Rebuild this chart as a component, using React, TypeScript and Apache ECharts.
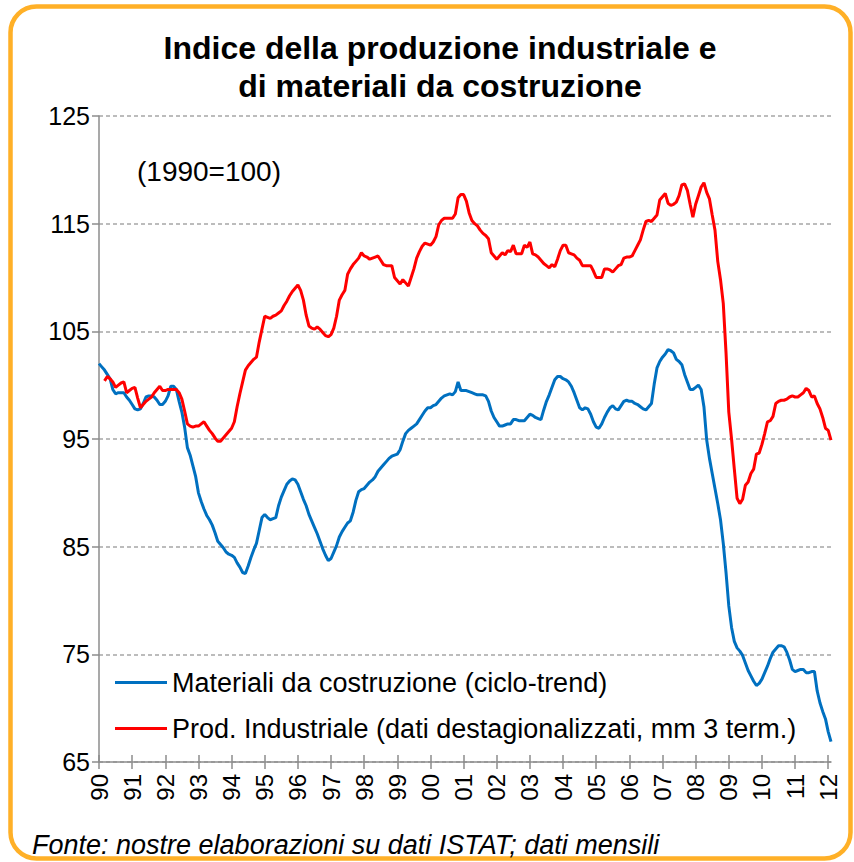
import React, { useEffect, useRef } from "react";
import * as echarts from "echarts";

// Monthly categories: Jan 1990 .. Feb 2012
const startYear = 1990;
const monthCount = 266;
const categories: string[] = Array.from({ length: monthCount }, (_, i) => {
  const y = startYear + Math.floor(i / 12);
  const m = (i % 12) + 1;
  return `${y}-${m < 10 ? "0" + m : m}`;
});

const yTicks = { min: 65, max: 125, interval: 10 };

const seriesNames = [
  "Materiali da costruzione (ciclo-trend)",
  "Prod. Industriale (dati destagionalizzati, mm 3 term.)",
];

// Materiali da costruzione (ciclo-trend), monthly
const materiali: number[] = [
  // 1990
  102.0, 101.7, 101.4, 101.0, 100.6, 99.6, 99.2, 99.3, 99.3, 99.3, 98.9, 98.6,
  // 1991
  98.2, 97.8, 97.7, 97.8, 98.3, 98.9, 99.0, 99.0, 98.9, 98.6, 98.2, 98.2,
  // 1992
  98.5, 99.0, 99.9, 99.9, 99.6, 98.5, 97.5, 96.1, 94.2, 93.5, 92.5, 91.5,
  // 1993
  90.0, 89.2, 88.5, 87.9, 87.5, 87.0, 86.3, 85.5, 85.2, 84.9, 84.5, 84.3,
  // 1994
  84.2, 84.0, 83.5, 83.1, 82.6, 82.5, 83.2, 84.0, 84.7, 85.3, 86.5, 87.7,
  // 1995
  88.0, 87.7, 87.5, 87.6, 87.7, 88.8, 89.6, 90.2, 90.8, 91.1, 91.3, 91.2,
  // 1996
  90.8, 90.1, 89.4, 88.8, 88.0, 87.4, 86.8, 86.2, 85.5, 84.8, 84.2, 83.7,
  // 1997
  83.9, 84.5, 85.1, 85.9, 86.4, 86.8, 87.2, 87.4, 88.2, 89.3, 90.1, 90.3,
  // 1998
  90.4, 90.7, 91.0, 91.2, 91.5, 92.0, 92.3, 92.6, 92.9, 93.2, 93.4, 93.5,
  // 1999
  93.6, 94.0, 94.8, 95.5, 95.8, 96.0, 96.2, 96.4, 96.8, 97.2, 97.6, 97.9,
  // 2000
  97.9, 98.1, 98.2, 98.5, 98.8, 99.0, 99.1, 99.2, 99.1, 99.4, 100.3, 99.5,
  // 2001
  99.5, 99.5, 99.4, 99.3, 99.2, 99.1, 99.1, 99.1, 99.0, 98.5, 97.6, 97.0,
  // 2002
  96.6, 96.2, 96.2, 96.3, 96.4, 96.4, 96.8, 96.8, 96.7, 96.7, 96.7, 97.0,
  // 2003
  97.3, 97.2, 97.0, 96.9, 96.8, 97.7, 98.5, 99.1, 99.8, 100.5, 100.8, 100.8,
  // 2004
  100.6, 100.5, 100.3, 99.9, 99.3, 98.6, 97.9, 97.7, 97.9, 97.8, 97.3, 96.6,
  // 2005
  96.1, 96.0, 96.4, 97.0, 97.5, 97.9, 98.1, 97.8, 97.7, 98.1, 98.5, 98.6,
  // 2006
  98.5, 98.5, 98.3, 98.2, 98.0, 97.8, 97.7, 98.0, 98.3, 100.1, 101.6, 102.2,
  // 2007
  102.6, 102.9, 103.3, 103.2, 103.0, 102.4, 102.2, 101.9, 101.0, 100.3, 99.6, 99.6,
  // 2008
  99.8, 100.0, 99.6, 98.0, 94.9, 93.2, 91.8, 90.4, 89.0, 87.5, 85.3, 82.6,
  // 2009
  79.5, 77.5, 76.2, 75.6, 75.3, 74.9, 74.2, 73.5, 73.0, 72.5, 72.1, 72.3,
  // 2010
  72.7, 73.3, 73.9, 74.6, 75.2, 75.5, 75.8, 75.8, 75.7, 75.2, 74.5, 73.6,
  // 2011
  73.4, 73.5, 73.6, 73.6, 73.3, 73.3, 73.4, 73.4, 71.6, 70.5, 69.7, 69.0,
  // 2012
  67.8, 66.9,
];

// Produzione industriale (dati destagionalizzati, media mobile 3 termini), monthly
const prodIndustriale: (number | null)[] = [
  // 1990
  null, null, 100.4, 100.8, 100.6, 100.3, 99.8, 100.0, 100.2, 100.3, 99.3, 99.5,
  // 1991
  99.7, 99.8, 98.8, 97.9, 98.2, 98.5, 98.7, 98.9, 99.3, 99.6, 99.9, 99.5,
  // 1992
  99.5, 99.6, 99.6, 99.6, 99.6, 99.3, 98.7, 97.6, 96.4, 96.2, 96.1, 96.2,
  // 1993
  96.2, 96.4, 96.6, 96.2, 95.8, 95.5, 95.1, 94.8, 94.8, 95.1, 95.4, 95.7,
  // 1994
  96.0, 96.6, 98.0, 99.2, 100.3, 101.4, 101.8, 102.1, 102.4, 102.6, 104.0, 105.2,
  // 1995
  106.4, 106.3, 106.2, 106.4, 106.5, 106.7, 106.9, 107.4, 107.8, 108.3, 108.7, 109.0,
  // 1996
  109.3, 108.8, 107.9, 106.5, 105.5, 105.3, 105.2, 105.4, 105.2, 104.9, 104.6, 104.5,
  // 1997
  104.7, 105.3, 106.4, 107.9, 108.4, 108.8, 110.3, 110.8, 111.2, 111.5, 111.8, 112.3,
  // 1998
  112.0, 111.9, 111.7, 111.8, 111.9, 112.0, 111.6, 111.2, 111.1, 111.1, 111.1, 110.0,
  // 1999
  109.7, 109.4, 109.8, 109.5, 109.2, 110.0, 110.8, 111.8, 112.4, 112.9, 113.2, 113.1,
  // 2000
  113.0, 113.3, 113.8, 114.9, 115.3, 115.5, 115.5, 115.5, 115.5, 115.9, 117.4, 117.7,
  // 2001
  117.7, 117.1, 116.0, 115.3, 115.0, 114.8, 114.4, 114.1, 113.9, 113.6, 112.3, 112.0,
  // 2002
  111.7, 112.0, 112.3, 112.1, 112.5, 112.4, 113.0, 112.2, 112.2, 112.2, 113.0, 112.8,
  // 2003
  113.3, 112.2, 112.1, 111.9, 111.6, 111.3, 111.1, 110.9, 111.2, 111.0, 111.7, 112.5,
  // 2004
  113.0, 113.0, 112.3, 112.2, 112.1, 111.8, 111.6, 111.1, 111.1, 111.1, 111.1, 110.6,
  // 2005
  110.0, 110.0, 110.0, 110.8, 110.8, 110.7, 110.5, 110.8, 111.1, 111.2, 111.8, 111.9,
  // 2006
  111.9, 112.0, 112.5, 113.0, 113.5, 114.4, 115.2, 115.3, 115.2, 115.5, 115.8, 117.2,
  // 2007
  117.5, 117.8, 116.9, 116.7, 116.8, 117.0, 117.6, 118.6, 118.7, 118.1, 116.8, 115.6,
  // 2008
  116.8, 117.6, 118.4, 118.8, 117.9, 117.3, 115.8, 114.4, 111.5, 109.8, 107.6, 103.0,
  // 2009
  97.5, 95.0, 92.2, 89.5, 89.0, 89.4, 90.7, 91.0, 91.8, 92.2, 93.6, 93.7,
  // 2010
  94.5, 95.5, 96.6, 96.7, 97.1, 98.3, 98.5, 98.6, 98.6, 98.7, 98.9, 99.0,
  // 2011
  98.9, 98.9, 99.1, 99.3, 99.7, 99.5, 98.9, 99.0, 98.3, 97.8, 97.0, 96.0,
  // 2012
  95.8, 94.9,
];

const titleLines = ["Indice della produzione industriale e", "di materiali da costruzione"];
const baseNote = "(1990=100)";
const sourceNote = "Fonte: nostre elaborazioni su dati ISTAT; dati mensili";

const FONT = "'Liberation Sans', Arial, Helvetica, sans-serif";
const isJan = (i: number) => i % 12 === 0;

export default function App() {
  const ref = useRef<HTMLDivElement>(null);

  useEffect(() => {
    document.body.style.margin = "0";
    if (!ref.current) return;
    const chart = echarts.init(ref.current, undefined, { renderer: "svg" });
    chart.setOption({
      animation: false,
      backgroundColor: "#ffffff",
      textStyle: { fontFamily: FONT },
      grid: { left: 99, top: 116, width: 732, height: 646, containLabel: false },
      legend: {
        orient: "vertical",
        left: 110,
        top: 664,
        icon: "rect",
        itemWidth: 52,
        itemHeight: 3,
        itemGap: 19,
        textStyle: { fontSize: 27, color: "#000", fontFamily: FONT },
        data: seriesNames,
      },
      xAxis: [
        {
          type: "category",
          data: categories,
          boundaryGap: false,
          position: "bottom",
          axisLine: { show: true, lineStyle: { color: "#8c8c8c", width: 1.5 } },
          axisTick: { show: true, interval: (i: number) => isJan(i), length: 7, lineStyle: { color: "#8c8c8c", width: 1.5 } },
          axisLabel: {
            show: true,
            interval: (i: number) => isJan(i),
            rotate: 90,
            margin: 12,
            fontSize: 24,
            color: "#000",
            fontFamily: FONT,
            formatter: (v: string) => v.slice(2, 4),
          },
          splitLine: { show: false },
        },
        {
          type: "category",
          data: categories,
          boundaryGap: false,
          position: "bottom",
          axisLine: { show: false },
          axisTick: { show: true, inside: true, interval: (i: number) => isJan(i), length: 7, lineStyle: { color: "#8c8c8c", width: 1.5 } },
          axisLabel: { show: false },
          splitLine: { show: false },
        },
      ],
      yAxis: {
        type: "value",
        min: yTicks.min,
        max: yTicks.max,
        interval: yTicks.interval,
        axisLine: { show: true, lineStyle: { color: "#8c8c8c", width: 1.5 } },
        axisTick: { show: true, length: 7, lineStyle: { color: "#8c8c8c", width: 1.5 } },
        axisLabel: { fontSize: 25, color: "#000", margin: 9, fontFamily: FONT },
        splitLine: { show: true, lineStyle: { color: "#a6a6a6", type: [4, 3], width: 1.5 } },
      },
      series: [
        {
          name: seriesNames[0],
          type: "line",
          data: materiali,
          showSymbol: false,
          symbol: "none",
          lineStyle: { color: "#0070C0", width: 3 },
          itemStyle: { color: "#0070C0" },
          z: 3,
        },
        {
          name: seriesNames[1],
          type: "line",
          data: prodIndustriale,
          showSymbol: false,
          symbol: "none",
          connectNulls: false,
          lineStyle: { color: "#FF0000", width: 3 },
          itemStyle: { color: "#FF0000" },
          z: 4,
        },
      ],
      graphic: [
        {
          type: "rect",
          z: -10,
          shape: { x: 10.5, y: 6.5, width: 840, height: 852, r: 26 },
          style: { fill: "none", stroke: "#FFB027", lineWidth: 4.5 },
          silent: true,
        },
        {
          type: "text",
          x: 440,
          y: 48,
          style: { text: titleLines[0], fontSize: 32, fontWeight: "bold", fill: "#000", textAlign: "center", textVerticalAlign: "middle", fontFamily: FONT },
        },
        {
          type: "text",
          x: 440,
          y: 86,
          style: { text: titleLines[1], fontSize: 32, fontWeight: "bold", fill: "#000", textAlign: "center", textVerticalAlign: "middle", fontFamily: FONT },
        },
        {
          type: "text",
          x: 137,
          y: 171,
          style: { text: baseNote, fontSize: 28, fill: "#000", textAlign: "left", textVerticalAlign: "middle", fontFamily: FONT },
        },
        {
          type: "text",
          x: 32,
          y: 845,
          style: { text: sourceNote, fontSize: 27, fontStyle: "italic", fill: "#000", textAlign: "left", textVerticalAlign: "middle", fontFamily: FONT },
        },
      ],
    });
    return () => chart.dispose();
  }, []);

  return <div ref={ref} style={{ width: 854, height: 862 }} />;
}
